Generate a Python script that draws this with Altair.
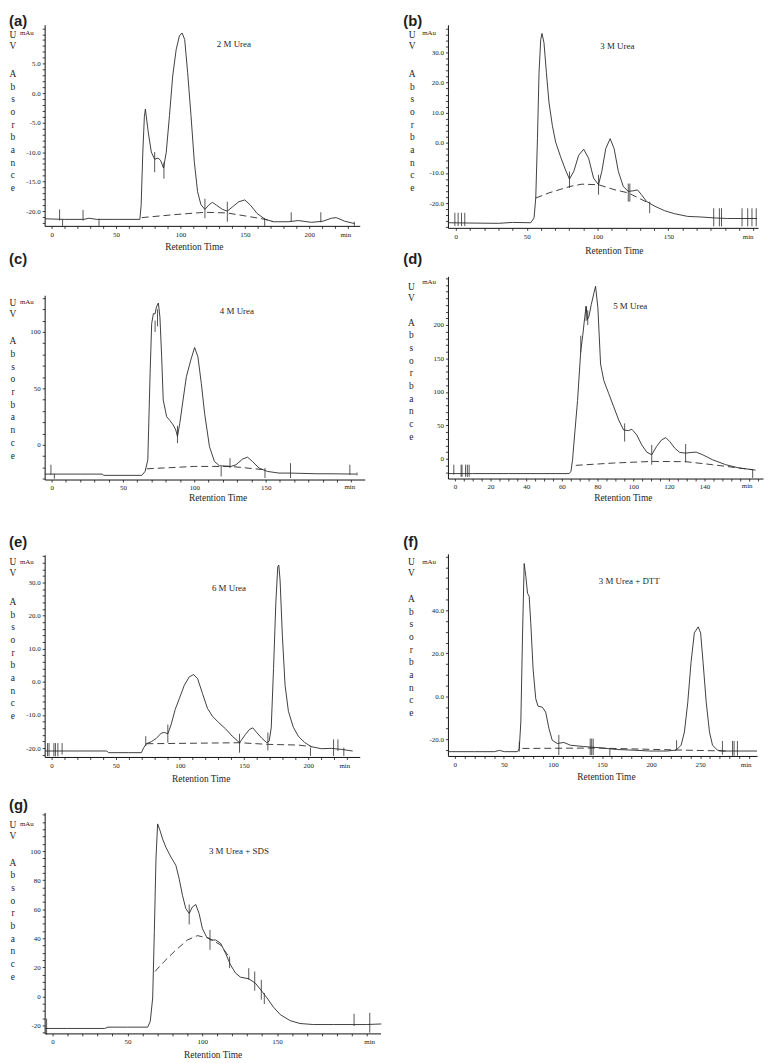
import altair as alt
import pandas as pd

# ---------------- data ----------------
# (a) 2 M Urea
A_T = [-5, 10, 25, 29, 35, 50, 68.5, 69.5, 70.8, 72.0, 72.8, 75, 77.4, 80, 82.6, 84.6, 86.9, 89, 91.5, 94, 96.7,
       99.2, 101.3, 103.3, 105.6, 108.2, 110.8, 113.3, 115.9, 119, 122.3, 124.9, 128, 132.6, 136.4, 140.3, 145.4,
       150, 154.4, 159.5, 165.9, 172.3, 183.8, 191.5, 201.8, 210.8, 217.2, 221, 227.4, 235]
A_V = [-21.3, -21.4, -21.4, -21.2, -21.4, -21.4, -21.4, -19.0, -10.0, -4.0, -2.7, -6.6, -10.0, -11.2, -11.0, -11.4,
       -12.7, -10.0, -3.8, 2.9, 7.4, 9.7, 10.2, 9.1, 3.5, -3.8, -11.7, -16.7, -18.9, -19.7, -18.9, -18.5, -19.0,
       -19.7, -20.0, -19.3, -18.4, -18.1, -19.0, -20.4, -21.4, -21.8, -21.8, -21.6, -21.9, -21.7, -21.2, -21.1,
       -21.7, -22.1]
A_BT = [70, 95, 119, 136, 150, 166, 172]
A_BV = [-21.1, -20.6, -20.2, -20.3, -20.8, -21.4, -21.8]
A_MT = [6.2, 8.5, 24.4, 36.8, 80, 87.2, 119, 136.4, 165.4, 186, 209, 235]
A_M1 = [-19.7, -21.4, -19.8, -21.3, -10.0, -11.7, -17.9, -18.4, -21.2, -20.2, -20.2, -21.8]
A_M2 = [-21.6, -22.5, -21.6, -22.5, -13.4, -14.5, -21.2, -21.8, -22.5, -21.8, -21.9, -22.5]

# (b) 3 M Urea
B_T = [-5.6, 10, 30, 40, 52.9, 55.2, 56.4, 57.6, 58.7, 59.9, 60.8, 62.2, 63.9, 65.7, 68.1, 70.4, 73.9, 77.4, 80.2,
       83.2, 86.7, 90.2, 93.7, 97.2, 100.7, 103, 105.8, 108.9, 111.7, 114.7, 118.2, 121.7, 125.2, 128.2, 131,
       134.5, 140.3, 147.3, 154.3, 163.6, 173, 182.3, 191.6, 212.6]
B_V = [-26.5, -26.6, -26.7, -26.4, -26.5, -24.9, -18.3, 1.4, 23.3, 34.3, 36.3, 33.2, 23.3, 13.5, 5.8, 0.3, -4.6,
       -9.0, -12.0, -9.5, -4.1, -2.1, -5.1, -11.7, -13.9, -9.5, -1.9, 1.4, -1.9, -9.5, -14.5, -16.1, -15.9, -15.6,
       -17.2, -19.4, -21.0, -22.5, -23.5, -24.4, -24.6, -24.9, -25.1, -25.1]
B_BT = [56.4, 65.7, 80.2, 89, 100.7, 112.4, 121.7, 134.5]
B_BV = [-18.3, -16.6, -14.5, -13.7, -13.9, -15.6, -16.6, -19.6]
B_MT = [-0.7, 1.6, 4, 6.3, 80.2, 100.7, 121.7, 122.8, 136.8, 182, 186, 187.5, 202, 206, 209, 212]
B_M1 = [-23.2, -23.2, -23.2, -23.2, -9.5, -10.6, -13.5, -13.5, -19.5, -21.7, -21.7, -21.7, -21.7, -21.7, -21.7, -21.7]
B_M2 = [-27.6, -27.6, -27.6, -27.6, -15.0, -17.2, -19.5, -19.5, -23.3, -27.7, -27.7, -27.7, -27.7, -27.7, -27.7, -27.7]

# (c) 4 M Urea
C_T = [-4.9, 20, 35.4, 36.6, 50, 63.2, 65.5, 67.4, 69, 70.1, 71.3, 72.5, 73.4, 74.8, 75.9, 77.1, 78.2, 80.6, 82.9,
       85.2, 87, 88.2, 89.8, 92.1, 94.4, 97.5, 100.2, 102.5, 104.9, 107.2, 110.6, 114.1, 117.6, 125.7, 129.2,
       133.8, 137.3, 140.7, 145.4, 151.2, 159.3, 167.4, 185.9, 195.1, 213.7]
C_V = [-25.9, -25.9, -25.9, -27, -27, -27, -23.5, -13.2, 63.2, 107.4, 116.2, 116, 122, 125.6, 113, 78, 39.7, 25,
       21.5, 17.6, 13.2, 7.4, 19.1, 39.7, 60.3, 75, 86.2, 78, 54.4, 27.9, -1.5, -14.7, -18.5, -19.1, -17.6, -12.6,
       -10.9, -14.7, -20.6, -23.5, -25, -25, -25.6, -25.6, -25.9]
C_BT = [66.7, 100.2, 125.7, 148.8]
C_BV = [-21.2, -19.1, -19.1, -22.0]
C_MT = [-0.5, 1.9, 72.5, 74.2, 88.2, 118.8, 125, 149.5, 167.4, 209, 214]
C_M1 = [-17.6, -25.6, 110, 120, 16.8, -19.1, -11.8, -20.6, -16.2, -17.6, -24.5]
C_M2 = [-26.5, -30.0, 100, 105, 1.5, -28.0, -20.6, -29.4, -29.4, -26.5, -27.0]

# (d) 5 M Urea
D_T = [-3.3, 10, 30, 50, 64.1, 65.1, 66, 66.9, 68.8, 70.6, 71.7, 72.8, 73.6, 74.3, 75.2, 76.5, 78, 78.9, 80.2, 81.7,
       83.5, 86.3, 89.1, 91.9, 94.6, 97.4, 99.3, 102, 104.8, 107.6, 110.4, 113.1, 115.9, 118.3, 120.5, 123.3,
       126.1, 129.4, 132.5, 135.3, 139, 144.5, 151.9, 159.3, 166.7, 168.6]
D_V = [-22.2, -22.2, -22.2, -22.2, -22.2, -18.8, -1.5, 28, 87, 161.5, 184, 211, 228, 208, 213, 230.6, 248, 257.8,
       225.7, 141.7, 117, 97.3, 77.5, 57.8, 43, 42, 44, 35.6, 20.7, 9.9, 5.9, 18.3, 28.1, 31.6, 25.7, 15.8, 9.4,
       8.4, 9.4, 9.9, 5.9, -1.5, -8.9, -13.8, -16.3, -17]
D_BT = [67.8, 89.1, 110.4, 129.4, 144.5, 166.7]
D_BV = [-9.9, -6.4, -4.0, -4.4, -8.9, -16.3]
D_MT = [-0.6, 3.5, 4.0, 6.0, 7.0, 8.0, 70.6, 73.6, 74.5, 95.2, 110.4, 129.4, 167]
D_M1 = [-8.9, -8.9, -8.9, -8.9, -8.9, -8.9, 184, 228, 222, 52.8, 20.7, 22, -15.3]
D_M2 = [-23.7, -27, -27, -27, -27, -27, 159, 206, 200, 25.7, -8.9, -5.4, -28.6]

# (e) 6 M Urea
E_T = [-5.1, 20, 43, 44.3, 60, 70, 71.8, 73.9, 77.7, 81.6, 85.5, 88, 90.6, 93.2, 96.3, 99.6, 103.5, 107.3, 110.7,
       113.8, 117.6, 121.5, 125.4, 130.5, 135.6, 140.8, 146.5, 151.1, 154.2, 156.8, 160.1, 164, 167.8, 169.6,
       171.2, 173, 174.8, 176.3, 177.1, 178.1, 179.9, 182, 184.6, 188.4, 192.3, 197.4, 202.6, 210.3, 218, 225.7,
       234.7]
E_V = [-20.9, -20.9, -20.9, -21.4, -21.4, -21.4, -19.9, -18.7, -18.1, -17.1, -15.5, -15.3, -15.7, -12.9, -8.4,
       -5.0, -1.0, 1.5, 2.2, 1.0, -3.5, -8.0, -10.4, -12.4, -14.2, -16.4, -18.4, -15.9, -14.4, -13.9, -15.4,
       -17.1, -18.4, -17.9, -13.9, 4.0, 23.9, 34.8, 35.3, 30.8, 13.9, -1.0, -8.9, -13.7, -16.4, -18.4, -19.6,
       -20.2, -20.1, -20.4, -20.9]
E_BT = [73.9, 146.5, 169.1, 192.3, 202.6]
E_BV = [-18.7, -18.4, -18.9, -19.1, -19.6]
E_MT = [-3.2, -2.0, 1.8, 3.0, 4.9, 8.2, 73.4, 90.6, 146.5, 168.6, 201.8, 219.8, 223.2, 227.8]
E_M1 = [-18.5, -18.5, -18.5, -18.5, -18.5, -18.5, -16.4, -12.9, -15.7, -15.3, -19.9, -17.4, -17.4, -19.9]
E_M2 = [-22.5, -22.5, -22.5, -22.5, -22.5, -22.0, -19.4, -18.4, -21.4, -20.7, -22.4, -22.4, -20.9, -22.4]

# (f) 3 M Urea + DTT
F_T = [-6.7, 20, 40.4, 45.5, 50.5, 64, 65.7, 67.3, 69, 70.7, 72.4, 74.1, 75.8, 77.4, 79.8, 82.5, 84.8, 89.2, 92.6,
       96, 99.3, 104.4, 111.1, 117.8, 131.3, 148.1, 165, 181.8, 198.7, 215.5, 225.6, 230.6, 234, 237.4, 240.7,
       244.1, 248, 250.5, 253, 256.2, 259.5, 262.6, 267.7, 272.7, 308]
F_V = [-25.8, -25.8, -25.8, -25.2, -25.8, -25.8, -24.3, -12, 28, 61.8, 55.7, 48, 46.5, 34.2, 12.6, -1.2, -4.6,
       -5.1, -7.4, -15.1, -20.5, -22, -21.5, -22.8, -23.4, -24, -24.8, -25.1, -25.5, -25.5, -25.1, -22.8, -16.6,
       -2.8, 15.7, 29.5, 32.3, 29.5, 15.7, -2.8, -16.6, -22.8, -25.1, -25.5, -25.5]
F_BT = [69, 145, 225, 276]
F_BV = [-24.3, -24.1, -25.0, -25.5]
F_MT = [65.7, 106, 138, 139.5, 141, 158, 226, 272.7, 283, 284.6, 288]
F_M1 = [-21.2, -18.0, -19.7, -19.7, -19.7, -24.3, -20.5, -20.8, -20.8, -20.8, -20.8]
F_M2 = [-25.8, -27.4, -27.4, -27.4, -27.4, -27.7, -25.1, -27.2, -27.7, -27.7, -27.7]

# (g) 3 M Urea + SDS
G_T = [-5.1, 10, 34.8, 37, 50, 63.6, 65.3, 66.9, 68, 69.1, 70.2, 71.8, 73.5, 75.7, 79.1, 82.4, 84.6, 86.8, 89,
       91.3, 93.5, 95.7, 97.9, 100.1, 102.8, 105.6, 109, 112.3, 115.6, 118.9, 122.3, 125.6, 131.1, 135.5, 140,
       143.3, 147.7, 152.2, 158.8, 165.4, 174.3, 187.6, 200.9, 209.7, 219.7]
G_V = [-22.1, -22.1, -22.1, -21.2, -21.2, -21.2, -17.1, -1.1, 44.5, 94.7, 118.7, 114.2, 108.4, 102.7, 95.9, 90.2,
       81, 69.6, 60.5, 57.1, 61.6, 63.2, 57.1, 46.8, 41.1, 38.8, 38.8, 36.5, 29.7, 21.7, 16, 13.2, 12.1, 9.1, 3.4,
       -1.1, -7.5, -12.6, -16.7, -18.7, -19.4, -19.4, -19.4, -19.4, -19.0]
G_BT = [68.4, 74.6, 81.3, 90.1, 96.8, 104.5, 112.3, 117.8]
G_BV = [17.1, 24.0, 30.8, 38.8, 41.8, 40.0, 35.4, 27.4]
G_MT = [-4, 91.3, 105.2, 118.3, 131.1, 135.1, 139.5, 141.5, 201.5, 212]
G_M1 = [-15.3, 63.2, 45.7, 27.4, 19.4, 17.1, 11.4, 2.3, -12.0, -11.4]
G_M2 = [-26.3, 49.5, 32.0, 19.4, 11.4, 3.9, -2.3, -5.25, -20.5, -25.0]

# axis tick values (minor ticks included; only majors up to *_LMAX get labels)
A_XT = list(range(0, 231, 10)); A_YT = list(range(-22, 12, 1))
B_XT = list(range(0, 211, 10)); B_YT = list(range(-28, 40, 2))
C_XT = list(range(0, 211, 10)); C_YT = list(range(-30, 133, 10))
D_XT = list(range(0, 171, 5));  D_YT = list(range(-20, 271, 10))
E_XT = list(range(0, 231, 10)); E_YT = list(range(-22, 39, 2))
F_XT = list(range(0, 301, 10)); F_YT = list(range(-25, 67, 5))
G_XT = list(range(0, 211, 10)); G_YT = list(range(-25, 127, 5))
X_LMAX = [200, 150, 150, 140, 200, 250, 150]
Y_LMAX = [5, 30, 100, 200, 30, 40, 100]

PANEL_LABELS = ["(a)", "(b)", "(c)", "(d)", "(e)", "(f)", "(g)"]
PANEL_TITLES = ["2 M Urea", "3 M Urea", "4 M Urea", "5 M Urea", "6 M Urea", "3 M Urea + DTT", "3 M Urea + SDS"]

SERIF = "Liberation Serif"
SANS = "Liberation Sans"
INK = "#2a2a2a"
ONE = pd.DataFrame({"k": [0]})


def txt(s, x, y, size, font=SERIF, weight="normal", align="center", baseline="middle", lh=None):
    kw = dict(font=font, fontSize=size, fontWeight=weight, align=align, baseline=baseline, color="#1e1e1e")
    if lh is not None:
        kw.update(lineBreak="\n", lineHeight=lh)
    return alt.Chart(ONE).mark_text(**kw).encode(x=alt.value(x), y=alt.value(y), text=alt.value(s))


def panel(p):
    W, H, T = p["W"], p["H"], p["T"]
    xs = alt.Scale(domain=p["xdom"], nice=False, zero=False)
    ys = alt.Scale(domain=p["ydom"], nice=False, zero=False, range=[H, T])
    xm, xl = p["xmajor"], p["xlmax"]
    xaxis = alt.Axis(values=p["xt"], title=None,
                     labelExpr=f"(datum.value % {xm} == 0 && datum.value <= {xl}) ? '' + datum.value : ''")
    ym, yl = p["ymajor"], p["ylmax"]
    if p["dec"]:
        yexpr = (f"(datum.value % {ym} == 0 && datum.value <= {yl}) ? (datum.value < 0 ? "
                 f"'-' + format(-datum.value, '.1f') : format(datum.value, '.1f')) : ''")
    else:
        yexpr = (f"(datum.value % {ym} == 0 && datum.value <= {yl}) ? (datum.value < 0 ? "
                 f"'-' + (-datum.value) : '' + datum.value) : ''")
    yaxis = alt.Axis(values=p["yt"], title=None, labelExpr=yexpr)

    curve_df = pd.DataFrame({"t": p["t"], "v": p["v"]})
    base_df = pd.DataFrame({"t": p["bt"], "v": p["bv"]})
    mark_df = pd.DataFrame({"t": p["mt"], "v1": p["m1"], "v2": p["m2"]})

    curve = alt.Chart(curve_df).mark_line(color=INK, strokeWidth=0.9).encode(
        x=alt.X("t:Q", scale=xs, axis=xaxis), y=alt.Y("v:Q", scale=ys, axis=yaxis))
    base = alt.Chart(base_df).mark_line(color=INK, strokeWidth=0.9, strokeDash=[7, 4]).encode(
        x=alt.X("t:Q", scale=xs, axis=xaxis), y=alt.Y("v:Q", scale=ys, axis=yaxis))
    rules = alt.Chart(mark_df).mark_rule(color=INK, strokeWidth=0.8).encode(
        x=alt.X("t:Q", scale=xs, axis=xaxis), y=alt.Y("v1:Q", scale=ys, axis=yaxis), y2="v2:Q")

    texts = [
        txt(p["label"], p["lab"][0], p["lab"][1], 15, font=SANS, weight="bold", align="left"),
        txt(p["title"], p["tit"][0], p["tit"][1], 9),
        txt("U\nV", p["uvx"], p["uy"] - 4.4, 9.5, baseline="top", lh=11),
        txt("A\nb\ns\no\nr\nb\na\nn\nc\ne", p["uvx"], p["ay"] - 4.4, 9.5, baseline="top", lh=12.8),
        txt("mAu", p["mau"][0], p["mau"][1], 7),
        txt("Retention Time", p["rt"][0], p["rt"][1], 9.5),
        txt("min", p["min"][0], p["min"][1], 7),
    ]
    return alt.layer(curve, base, rules, *texts).properties(width=W, height=H)


PANELS = [
    dict(W=318, H=203, T=0, xdom=[-5.4, 239.2], ydom=[-22.5, 11.6], xt=A_XT, xmajor=50, yt=A_YT, ymajor=5, dec=True,
         t=A_T, v=A_V, bt=A_BT, bv=A_BV, mt=A_MT, m1=A_M1, m2=A_M2,
         lab=(-36, -4), tit=(191, 19), uvx=-32, uy=10, ay=49, mau=(-18, 8), rt=(151, 224), min=(304, 212)),
    dict(W=313, H=205, T=0, xdom=[-5.6, 213.3], ydom=[-28.2, 39.2], xt=B_XT, xmajor=50, yt=B_YT, ymajor=10, dec=True,
         t=B_T, v=B_V, bt=B_BT, bv=B_BV, mt=B_MT, m1=B_M1, m2=B_M2,
         lab=(-45, -4), tit=(171, 21), uvx=-36, uy=10, ay=49, mau=(-19, 8), rt=(168, 228), min=(303, 214)),
    dict(W=323, H=205, T=19, xdom=[-4.9, 219.4], ydom=[-30.7, 132.5], xt=C_XT, xmajor=50, yt=C_YT, ymajor=50,
         dec=False, t=C_T, v=C_V, bt=C_BT, bv=C_BV, mt=C_MT, m1=C_M1, m2=C_M2,
         lab=(-36, -18), tit=(194, 35), uvx=-32, uy=26, ay=65, mau=(-18, 26), rt=(175, 224), min=(308, 213)),
    dict(W=318, H=204, T=0, xdom=[-3.9, 172.8], ydom=[-29.6, 272.6], xt=D_XT, xmajor=20, yt=D_YT, ymajor=50,
         dec=False, t=D_T, v=D_V, bt=D_BT, bv=D_BV, mt=D_MT, m1=D_M1, m2=D_M2,
         lab=(-45, -18), tit=(184, 30), uvx=-37, uy=10, ay=46, mau=(-19, 6), rt=(177, 224), min=(302, 212)),
    dict(W=318, H=231, T=27, xdom=[-5.4, 240.2], ydom=[-22.7, 38.4], xt=E_XT, xmajor=50, yt=E_YT, ymajor=10, dec=True,
         t=E_T, v=E_V, bt=E_BT, bv=E_BV, mt=E_MT, m1=E_M1, m2=E_M2,
         lab=(-36, 14), tit=(186, 61), uvx=-32, uy=34, ay=74, mau=(-18, 34), rt=(158, 253), min=(303, 240)),
    dict(W=312, H=230, T=26, xdom=[-7.0, 308.0], ydom=[-27.8, 66.3], xt=F_XT, xmajor=50, yt=F_YT, ymajor=20, dec=True,
         t=F_T, v=F_V, bt=F_BT, bv=F_BV, mt=F_MT, m1=F_M1, m2=F_M2,
         lab=(-45, 14), tit=(183, 53), uvx=-37, uy=34, ay=71, mau=(-19, 34), rt=(160, 251), min=(301, 239)),
    dict(W=339, H=230, T=7, xdom=[-5.3, 219.2], ydom=[-25.5, 126.6], xt=G_XT, xmajor=50, yt=G_YT, ymajor=20,
         dec=False, t=G_T, v=G_V, bt=G_BT, bv=G_BV, mt=G_MT, m1=G_M1, m2=G_M2,
         lab=(-36, 0), tit=(196, 46), uvx=-32, uy=19, ay=57, mau=(-18, 19), rt=(170, 252), min=(328, 239)),
]
for i, p in enumerate(PANELS):
    p["label"] = PANEL_LABELS[i]
    p["title"] = PANEL_TITLES[i]
    p["xlmax"] = X_LMAX[i]
    p["ylmax"] = Y_LMAX[i]

charts = [panel(p) for p in PANELS]

chart = alt.concat(*charts, columns=2, spacing={"row": 49, "column": 68}).properties(
    bounds="flush", padding=0
).configure_view(stroke="transparent").configure_axis(
    grid=False, labelFont=SERIF, labelFontSize=7, labelColor="#222", domainColor="#111", domainWidth=1,
    tickColor="#111", tickSize=2.5, tickWidth=0.8, labelPadding=2, labelFlush=False, labelOverlap=False
)

chart.save("out.html", embed_options={"renderer": "svg", "actions": False})
